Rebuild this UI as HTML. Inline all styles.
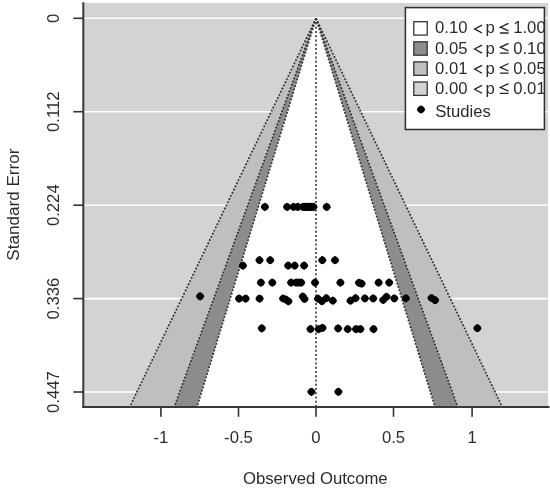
<!DOCTYPE html><html><head><meta charset="utf-8"><style>html,body{margin:0;padding:0;background:#fff;width:550px;height:491px;overflow:hidden}svg{display:block;filter:blur(0.4px)}text{font-family:"Liberation Sans",sans-serif;fill:#2b2b2b}</style></head><body>
<svg width="550" height="491" viewBox="0 0 550 491">
<defs><polygon id="dt" points="4.10,0.00 3.87,0.77 3.50,1.45 3.07,2.05 2.58,2.58 2.05,3.07 1.45,3.50 0.77,3.87 0.00,4.10 -0.77,3.87 -1.45,3.50 -2.05,3.07 -2.58,2.58 -3.07,2.05 -3.50,1.45 -3.87,0.77 -4.10,0.00 -3.87,-0.77 -3.50,-1.45 -3.07,-2.05 -2.58,-2.58 -2.05,-3.07 -1.45,-3.50 -0.77,-3.87 -0.00,-4.10 0.77,-3.87 1.45,-3.50 2.05,-3.07 2.58,-2.58 3.07,-2.05 3.50,-1.45 3.87,-0.77" fill="#000"/><clipPath id="pc"><rect x="83.3" y="3.0" width="464.7" height="403.9"/></clipPath><clipPath id="lc"><rect x="406" y="8" width="138.4" height="121"/></clipPath></defs>
<rect x="83.3" y="3.0" width="464.7" height="403.9" fill="#d3d3d3"/>
<line x1="83.3" y1="18.3" x2="548.0" y2="18.3" stroke="#fff" stroke-width="1.6"/>
<line x1="83.3" y1="111.7" x2="548.0" y2="111.7" stroke="#fff" stroke-width="1.6"/>
<line x1="83.3" y1="205.2" x2="548.0" y2="205.2" stroke="#fff" stroke-width="1.6"/>
<line x1="83.3" y1="298.6" x2="548.0" y2="298.6" stroke="#fff" stroke-width="1.6"/>
<line x1="83.3" y1="392.0" x2="548.0" y2="392.0" stroke="#fff" stroke-width="1.6"/>
<g clip-path="url(#pc)">
<polygon points="316.0,18.3 128.8,408.9 503.2,408.9" fill="#bfbfbf"/>
<polygon points="316.0,18.3 173.5,408.9 458.5,408.9" fill="#8c8c8c"/>
<polygon points="316.0,18.3 196.4,408.9 435.6,408.9" fill="#ffffff"/>
<line x1="316.0" y1="18.3" x2="128.8" y2="408.9" stroke="#333" stroke-width="1.7" stroke-dasharray="1.8 1.7"/>
<line x1="316.0" y1="18.3" x2="503.2" y2="408.9" stroke="#333" stroke-width="1.7" stroke-dasharray="1.8 1.7"/>
<line x1="316.0" y1="18.3" x2="173.5" y2="408.9" stroke="#333" stroke-width="1.7" stroke-dasharray="1.8 1.7"/>
<line x1="316.0" y1="18.3" x2="458.5" y2="408.9" stroke="#333" stroke-width="1.7" stroke-dasharray="1.8 1.7"/>
<line x1="316.0" y1="18.3" x2="196.4" y2="408.9" stroke="#333" stroke-width="1.7" stroke-dasharray="1.8 1.7"/>
<line x1="316.0" y1="18.3" x2="435.6" y2="408.9" stroke="#333" stroke-width="1.7" stroke-dasharray="1.8 1.7"/>
<line x1="316.0" y1="18.3" x2="316.0" y2="406.9" stroke="#333" stroke-width="1.6" stroke-dasharray="2 2.25"/>
</g>
<use href="#dt" x="264.9" y="206.9"/>
<use href="#dt" x="287.1" y="206.9"/>
<use href="#dt" x="293.6" y="206.9"/>
<use href="#dt" x="297.8" y="206.9"/>
<use href="#dt" x="303.0" y="206.9"/>
<use href="#dt" x="304.5" y="206.9"/>
<use href="#dt" x="306.0" y="206.9"/>
<use href="#dt" x="307.5" y="206.9"/>
<use href="#dt" x="309.0" y="206.9"/>
<use href="#dt" x="310.5" y="206.9"/>
<use href="#dt" x="312.0" y="206.9"/>
<use href="#dt" x="313.5" y="206.9"/>
<use href="#dt" x="326.7" y="206.9"/>
<use href="#dt" x="259.5" y="260.2"/>
<use href="#dt" x="270.2" y="260.2"/>
<use href="#dt" x="322.3" y="260.2"/>
<use href="#dt" x="335.0" y="260.2"/>
<use href="#dt" x="242.9" y="265.6"/>
<use href="#dt" x="288.2" y="265.6"/>
<use href="#dt" x="294.7" y="265.6"/>
<use href="#dt" x="304.1" y="265.6"/>
<use href="#dt" x="260.9" y="282.6"/>
<use href="#dt" x="272.3" y="282.6"/>
<use href="#dt" x="291.1" y="282.6"/>
<use href="#dt" x="296.2" y="282.6"/>
<use href="#dt" x="298.8" y="282.6"/>
<use href="#dt" x="301.2" y="282.6"/>
<use href="#dt" x="315.0" y="282.6"/>
<use href="#dt" x="340.4" y="282.6"/>
<use href="#dt" x="359.0" y="282.8"/>
<use href="#dt" x="361.6" y="283.6"/>
<use href="#dt" x="378.6" y="282.6"/>
<use href="#dt" x="389.2" y="282.6"/>
<use href="#dt" x="200.1" y="296.3"/>
<use href="#dt" x="239.1" y="298.6"/>
<use href="#dt" x="245.6" y="298.6"/>
<use href="#dt" x="259.6" y="298.6"/>
<use href="#dt" x="283.1" y="298.5"/>
<use href="#dt" x="285.9" y="299.5"/>
<use href="#dt" x="288.4" y="301.3"/>
<use href="#dt" x="302.8" y="296.5"/>
<use href="#dt" x="304.5" y="299.0"/>
<use href="#dt" x="318.0" y="298.7"/>
<use href="#dt" x="321.9" y="301.2"/>
<use href="#dt" x="326.3" y="298.2"/>
<use href="#dt" x="332.8" y="300.7"/>
<use href="#dt" x="350.5" y="300.7"/>
<use href="#dt" x="355.6" y="298.2"/>
<use href="#dt" x="364.9" y="298.4"/>
<use href="#dt" x="373.2" y="298.4"/>
<use href="#dt" x="383.2" y="300.0"/>
<use href="#dt" x="386.5" y="296.8"/>
<use href="#dt" x="394.3" y="298.4"/>
<use href="#dt" x="405.9" y="298.3"/>
<use href="#dt" x="431.5" y="298.0"/>
<use href="#dt" x="435.1" y="300.2"/>
<use href="#dt" x="261.8" y="328.3"/>
<use href="#dt" x="310.5" y="329.1"/>
<use href="#dt" x="318.6" y="329.1"/>
<use href="#dt" x="322.5" y="327.9"/>
<use href="#dt" x="338.1" y="328.4"/>
<use href="#dt" x="347.7" y="329.1"/>
<use href="#dt" x="356.0" y="329.1"/>
<use href="#dt" x="360.4" y="329.1"/>
<use href="#dt" x="373.5" y="329.1"/>
<use href="#dt" x="477.4" y="328.2"/>
<use href="#dt" x="311.4" y="391.8"/>
<use href="#dt" x="338.4" y="391.8"/>
<line x1="83.3" y1="2.2" x2="83.3" y2="407.9" stroke="#383838" stroke-width="2"/>
<line x1="82.3" y1="406.9" x2="549.5" y2="406.9" stroke="#383838" stroke-width="2"/>
<line x1="73.3" y1="18.3" x2="83.3" y2="18.3" stroke="#333" stroke-width="1.6"/>
<text transform="translate(59,18.3) rotate(-90)" text-anchor="middle" font-size="16.7">0</text>
<line x1="73.3" y1="111.7" x2="83.3" y2="111.7" stroke="#333" stroke-width="1.6"/>
<text transform="translate(59,111.7) rotate(-90)" text-anchor="middle" font-size="16.7">0.112</text>
<line x1="73.3" y1="205.2" x2="83.3" y2="205.2" stroke="#333" stroke-width="1.6"/>
<text transform="translate(59,205.2) rotate(-90)" text-anchor="middle" font-size="16.7">0.224</text>
<line x1="73.3" y1="298.6" x2="83.3" y2="298.6" stroke="#333" stroke-width="1.6"/>
<text transform="translate(59,298.6) rotate(-90)" text-anchor="middle" font-size="16.7">0.336</text>
<line x1="73.3" y1="392.0" x2="83.3" y2="392.0" stroke="#333" stroke-width="1.6"/>
<text transform="translate(59,392.0) rotate(-90)" text-anchor="middle" font-size="16.7">0.447</text>
<line x1="160.9" y1="406.9" x2="160.9" y2="416.8" stroke="#333" stroke-width="1.6"/>
<text x="160.9" y="443" text-anchor="middle" font-size="16.7">-1</text>
<line x1="238.5" y1="406.9" x2="238.5" y2="416.8" stroke="#333" stroke-width="1.6"/>
<text x="238.5" y="443" text-anchor="middle" font-size="16.7">-0.5</text>
<line x1="316.0" y1="406.9" x2="316.0" y2="416.8" stroke="#333" stroke-width="1.6"/>
<text x="316.0" y="443" text-anchor="middle" font-size="16.7">0</text>
<line x1="393.5" y1="406.9" x2="393.5" y2="416.8" stroke="#333" stroke-width="1.6"/>
<text x="393.5" y="443" text-anchor="middle" font-size="16.7">0.5</text>
<line x1="472.1" y1="406.9" x2="472.1" y2="416.8" stroke="#333" stroke-width="1.6"/>
<text x="472.1" y="443" text-anchor="middle" font-size="16.7">1</text>
<text x="315.3" y="484.4" text-anchor="middle" font-size="16.7">Observed Outcome</text>
<text transform="translate(18.9,204.6) rotate(-90)" text-anchor="middle" font-size="17.1">Standard Error</text>
<rect x="405.4" y="7.6" width="139" height="121.9" fill="#fff" stroke="#2e2e2e" stroke-width="1.5"/>
<g clip-path="url(#lc)">
<rect x="413.8" y="21.7" width="13.4" height="13.4" fill="#fff" stroke="#333" stroke-width="1.3"/>
<text x="435.0" y="33.4" font-size="16.7">0.10</text>
<path d="M482,25.1 L474.6,28.9 L482,33.0" fill="none" stroke="#222" stroke-width="1.3"/>
<text x="485.6" y="33.4" font-size="16.7">p</text>
<path d="M508.5,23.3 L500.4,27.2 L508.5,30.8 M499.9,33.0 H508.6" fill="none" stroke="#222" stroke-width="1.3"/>
<text x="513.2" y="33.4" font-size="16.7">1.00</text>
<rect x="413.8" y="41.8" width="13.4" height="13.4" fill="#8c8c8c" stroke="#333" stroke-width="1.3"/>
<text x="435.0" y="53.5" font-size="16.7">0.05</text>
<path d="M482,45.2 L474.6,49.0 L482,53.1" fill="none" stroke="#222" stroke-width="1.3"/>
<text x="485.6" y="53.5" font-size="16.7">p</text>
<path d="M508.5,43.4 L500.4,47.3 L508.5,50.9 M499.9,53.1 H508.6" fill="none" stroke="#222" stroke-width="1.3"/>
<text x="513.2" y="53.5" font-size="16.7">0.10</text>
<rect x="413.8" y="61.9" width="13.4" height="13.4" fill="#bfbfbf" stroke="#333" stroke-width="1.3"/>
<text x="435.0" y="73.6" font-size="16.7">0.01</text>
<path d="M482,65.3 L474.6,69.1 L482,73.2" fill="none" stroke="#222" stroke-width="1.3"/>
<text x="485.6" y="73.6" font-size="16.7">p</text>
<path d="M508.5,63.5 L500.4,67.4 L508.5,71.0 M499.9,73.2 H508.6" fill="none" stroke="#222" stroke-width="1.3"/>
<text x="513.2" y="73.6" font-size="16.7">0.05</text>
<rect x="413.8" y="82.0" width="13.4" height="13.4" fill="#d3d3d3" stroke="#333" stroke-width="1.3"/>
<text x="435.0" y="93.7" font-size="16.7">0.00</text>
<path d="M482,85.4 L474.6,89.2 L482,93.3" fill="none" stroke="#222" stroke-width="1.3"/>
<text x="485.6" y="93.7" font-size="16.7">p</text>
<path d="M508.5,83.6 L500.4,87.5 L508.5,91.1 M499.9,93.3 H508.6" fill="none" stroke="#222" stroke-width="1.3"/>
<text x="513.2" y="93.7" font-size="16.7">0.01</text>
<use href="#dt" x="421.0" y="109.5"/>
<text x="435.2" y="116.8" font-size="16.7">Studies</text>
</g>
</svg></body></html>
